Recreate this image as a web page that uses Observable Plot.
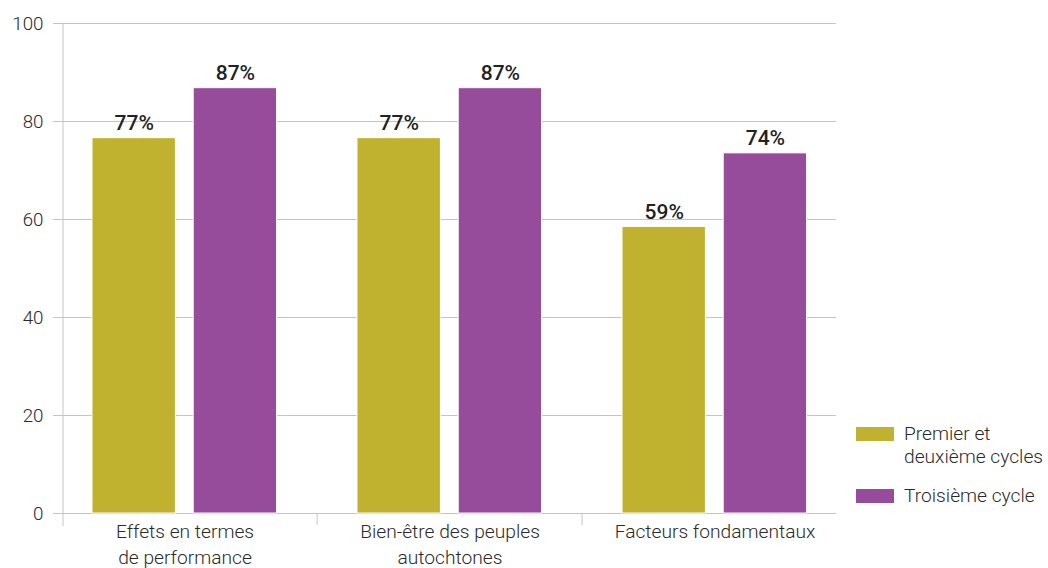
<!DOCTYPE html>
<html>
<head>
<meta charset="utf-8">
<script src="https://cdn.jsdelivr.net/npm/d3@7"></script>
<script src="https://cdn.jsdelivr.net/npm/@observablehq/plot@0.6"></script>
<style>
  html, body { margin: 0; padding: 0; background: #fff; }
  #wrap { position: relative; width: 1048px; height: 568px; font-family: Roboto, "Liberation Sans", Arial, sans-serif; }
  .leg { position: absolute; left: 856px; display: flex; align-items: flex-start; font-size: 19.2px; font-weight: 300; line-height: 22.6px; color: #2a2a2a; }
  .sw { width: 38px; height: 14px; margin-top: 4px; margin-right: 10px; flex: none; }
</style>
</head>
<body>
<div id="wrap"></div>
<script>
const categories = ["Effets en termes\nde performance", "Bien-être des peuples\nautochtones", "Facteurs fondamentaux"];
const series = ["Premier et deuxième cycles", "Troisième cycle"];
const legendLabels = ["Premier et<br>deuxième cycles", "Troisième cycle"];
const colors = ["#c0b12e", "#974b9b"];
const premier = [76.6, 76.6, 58.5];
const troisieme = [86.8, 86.8, 73.5];
const yTicks = [0, 20, 40, 60, 80, 100];

const rows = categories.flatMap((c, i) => [
  {cat: c, series: series[0], value: premier[i]},
  {cat: c, series: series[1], value: troisieme[i]}
]);
const rowsA = rows.filter(d => d.series === series[0]);
const rowsB = rows.filter(d => d.series === series[1]);

const font = "Roboto, Liberation Sans, Arial, sans-serif";
const grid = "#c4c4c4";

const chart = Plot.plot({
  width: 1048,
  height: 568,
  marginLeft: 62.5,
  marginRight: 212,
  marginTop: 23,
  marginBottom: 55,
  style: {fontFamily: font, background: "#fff", color: "#2a2a2a"},
  x: {domain: categories, range: [50.9, 848.3], paddingInner: 0, paddingOuter: 0, label: null},
  y: {domain: [0, 100], label: null},
  color: {domain: series, range: colors},
  marks: [
    Plot.ruleY(yTicks, {y: d => d, stroke: grid, strokeWidth: 1, insetLeft: -9.5}),
    Plot.barY(rowsA, {x: "cat", y: "value", fill: "series", stroke: "#fff", strokeWidth: 1, insetLeft: 40, insetRight: 141.6}),
    Plot.barY(rowsB, {x: "cat", y: "value", fill: "series", stroke: "#fff", strokeWidth: 1, insetLeft: 141.2, insetRight: 40.5}),
    Plot.frame({anchor: "left", stroke: grid, insetBottom: -12}),
    Plot.axisX(categories.slice(1), {tickSize: 12, dx: -132.9, tickFormat: () => "", stroke: grid, label: null}),
    Plot.axisX({tickSize: 0, tickPadding: 6, fontSize: 19.2, fontWeight: 300, lineHeight: 1.35, fill: "#2a2a2a", label: null}),
    Plot.axisY({ticks: yTicks, tickSize: 0, tickPadding: 19.5, fontSize: 18.8, fontWeight: 300, fill: "#2a2a2a", label: null}),
    Plot.text(rowsA, {x: "cat", y: "value", text: d => Math.round(d.value) + "%", dx: -50.8, dy: -8, lineAnchor: "bottom", fontSize: 21, fontWeight: 500, fill: "#222"}),
    Plot.text(rowsB, {x: "cat", y: "value", text: d => Math.round(d.value) + "%", dx: 50.4, dy: -8, lineAnchor: "bottom", fontSize: 21, fontWeight: 500, fill: "#222"})
  ]
});

const wrap = document.getElementById("wrap");
wrap.appendChild(chart);
const tops = [423, 485];
series.forEach((s, i) => {
  const d = document.createElement("div");
  d.className = "leg";
  d.style.top = tops[i] + "px";
  d.innerHTML = `<span class="sw" style="background:${colors[i]}"></span><span>${legendLabels[i]}</span>`;
  wrap.appendChild(d);
});
</script>
</body>
</html>
